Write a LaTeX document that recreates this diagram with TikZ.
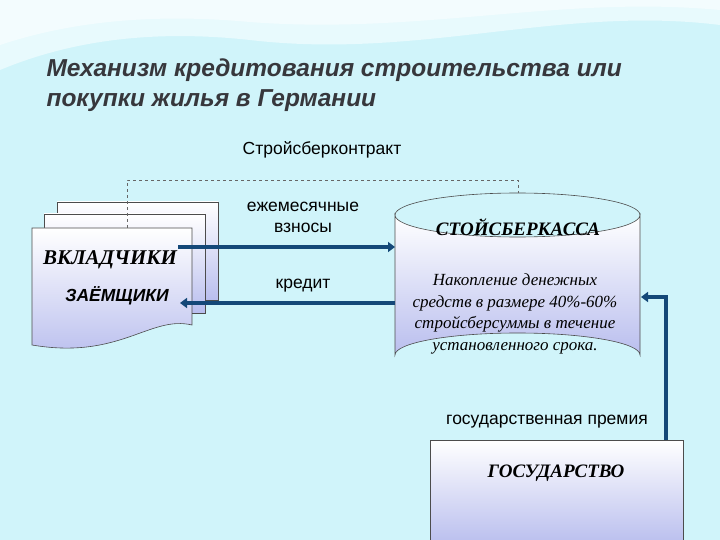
\documentclass[tikz,border=0pt]{standalone}
\usepackage{fontspec}
\setmainfont{Liberation Serif}
\setsansfont{Liberation Sans}
\usetikzlibrary{shapes.geometric,arrows.meta}
\definecolor{bg}{RGB}{208,244,250}
\definecolor{wave}{RGB}{232,250,253}
\definecolor{arr}{RGB}{20,72,120}
\definecolor{shd}{RGB}{185,190,238}
\definecolor{ttl}{RGB}{55,55,60}
\tikzset{
  conn/.style={draw=arr,line width=3.4pt,-{Triangle[length=7pt,width=10pt]}},
  shadebox/.style={draw=black!70,line width=0.6pt,top color=white,bottom color=shd},
  lbl/.style={font=\sffamily\fontsize{17.5}{21}\selectfont,align=center},
  bigser/.style={font=\bfseries\itshape\fontsize{19}{21}\selectfont}
}
\begin{document}
\begin{tikzpicture}[x=1pt,y=-1pt]
\useasboundingbox (0,0) rectangle (720,540);
\fill[bg] (0,0) rectangle (720,540);
\fill[wave] (0,0) -- (720,0) -- (720,25) .. controls (560,5) and (420,60) .. (250,40) .. controls (140,28) and (60,45) .. (0,70) -- cycle;
\fill[white,opacity=0.5] (0,0) -- (720,0) -- (720,10) .. controls (560,-5) and (420,35) .. (250,22) .. controls (140,12) and (60,25) .. (0,45) -- cycle;
\node[anchor=west,font=\sffamily\bfseries\itshape\fontsize{24.5}{30}\selectfont,text=ttl,align=left] (title) at (43,85) {Механизм кредитования строительства или\\покупки жилья в Германии};
\node[lbl] (contract) at (322,150) {Стройсберконтракт};
% documents
\path[shadebox] (57,202) rectangle (218,300);
\path[shadebox] (44,214) rectangle (205,313);
\path[shadebox] (32,228) -- (192,228) -- (192,325) .. controls (150,315) and (120,360) .. (32,345) -- cycle;
\node[font=\bfseries\itshape\fontsize{21}{23}\selectfont] (vk) at (110,260) {ВКЛАДЧИКИ};
\node[font=\sffamily\bfseries\itshape\fontsize{17.5}{20}\selectfont] (zm) at (117,296) {ЗАЁМЩИКИ};
% cylinder
\path[shadebox] (395,215) -- (395,355) arc[start angle=180,end angle=360,x radius=122.5,y radius=22] -- (640,215) arc[start angle=0,end angle=180,x radius=122.5,y radius=22] -- cycle;
\draw[black!70,line width=0.6pt] (395,215) arc[start angle=180,end angle=360,x radius=122.5,y radius=22];
\coordinate (cyltop) at (518,193);
\node[bigser] (kassa) at (518,227) {СТОЙСБЕРКАССА};
\node[font=\itshape\fontsize{17}{21.5}\selectfont,align=center] (body) at (515,314) {Накопление денежных\\средств в размере 40\%-60\%\\стройсберсуммы в течение\\установленного срока.};
% state
\path[shadebox] (430,440) rectangle (683,545);
\node[bigser] (gos) at (556,473) {ГОСУДАРСТВО};
\node[lbl] (prem) at (547,422) {государственная премия};
% connectors
\coordinate (docs) at (127,228);
\draw[dashed,black!60,line width=0.7pt] (docs) |- (518,180) -- (cyltop);
\coordinate (a1s) at (178,247);
\coordinate (a1e) at (395,247);
\draw[conn] (a1s) -- (a1e);
\coordinate (a2s) at (395,303);
\coordinate (a2e) at (180,303);
\draw[conn] (a2s) -- (a2e);
\coordinate (gs) at (666,440);
\coordinate (ge) at (641,297);
\draw[conn] (gs) |- (ge);
\node[lbl] (vz) at (303,217) {ежемесячные\\взносы};
\node[lbl] (kr) at (303,286) {кредит};
\end{tikzpicture}
\end{document}
